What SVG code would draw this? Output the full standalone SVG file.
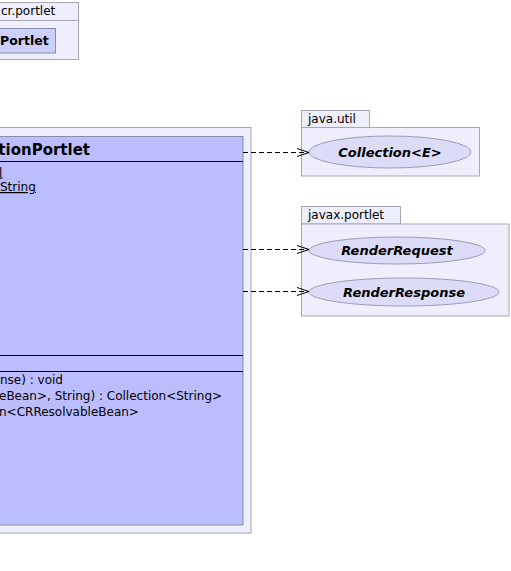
<svg xmlns="http://www.w3.org/2000/svg" width="511" height="571" viewBox="0 0 511 571">
<defs>
<style>
.pkg{fill:#eeeefc;stroke:#a6a6b6;stroke-width:1}
.cls{fill:#bbbdfe;stroke:#8a8aac;stroke-width:1}
.sm{fill:#cdcffe;stroke:#8a8aac;stroke-width:1}
.uc{fill:#dcdcf8;stroke:#9c9cb4;stroke-width:1}
.t{font-family:"DejaVu Sans",sans-serif;font-size:12px;fill:#000}
.b{font-weight:bold}
.ui{font-family:"DejaVu Sans",sans-serif;font-size:13px;font-weight:bold;font-style:italic;fill:#000}
.sep{stroke:#000;stroke-width:1}
.dep{fill:none;stroke:#000;stroke-width:1;stroke-dasharray:5,3}
</style>
<marker id="open" markerWidth="14" markerHeight="10" refX="13" refY="5" orient="auto" markerUnits="userSpaceOnUse">
<path d="M1,1 L13,5 L1,9" fill="none" stroke="#000" stroke-width="1"/>
</marker>
</defs>
<rect width="511" height="571" fill="#fff"/>
<g id="pkg-cr-portlet">
<rect class="pkg" x="-5" y="2.5" width="83.5" height="18"/>
<rect class="pkg" x="-5" y="20.5" width="83.5" height="39"/>
<text class="t" x="1" y="15">cr.portlet</text>
<rect class="sm" x="-5" y="28.5" width="60.5" height="24.5"/>
<text class="t b" x="0" y="45" style="font-size:12.5px">Portlet</text>
</g>
<g id="pkg-main">
<rect class="pkg" x="-5" y="127.5" width="256" height="405.5"/>
</g>
<g id="class-main">
<rect class="cls" x="-5" y="136.5" width="248" height="388.5"/>
<text class="t b" x="90" y="154.5" text-anchor="end" style="font-size:15px">tionPortlet</text>
<line class="sep" x1="-5" y1="161.5" x2="243" y2="161.5"/>
<text class="t" x="-1" y="176.5" text-decoration="underline">l</text>
<text class="t" x="0" y="191" text-decoration="underline">String</text>
<line class="sep" x1="-5" y1="355.5" x2="243" y2="355.5"/>
<line class="sep" x1="-5" y1="371.5" x2="243" y2="371.5"/>
<text class="t" x="0" y="383.5">nse) : void</text>
<text class="t" x="-1" y="399.5">eBean&gt;, String) : Collection&lt;String&gt;</text>
<text class="t" x="-1" y="415.5">n&lt;CRResolvableBean&gt;</text>
</g>
<g id="pkg-java-util">
<rect class="pkg" x="301.5" y="110.5" width="68" height="17"/>
<rect class="pkg" x="301.5" y="127.5" width="178" height="48.5"/>
<text class="t" x="308" y="122.5">java.util</text>
</g>
<g id="uc-collection">
<ellipse class="uc" cx="390" cy="152" rx="81" ry="16"/>
<text class="ui" x="390" y="157" text-anchor="middle">Collection&lt;E&gt;</text>
</g>
<g id="pkg-javax-portlet">
<rect class="pkg" x="301.5" y="206.5" width="99" height="17.5"/>
<rect class="pkg" x="301.5" y="224" width="207.5" height="92"/>
<text class="t" x="308" y="219">javax.portlet</text>
</g>
<g id="uc-renderrequest">
<ellipse class="uc" cx="397" cy="250.5" rx="88" ry="13.5"/>
<text class="ui" x="397" y="255" text-anchor="middle">RenderRequest</text>
</g>
<g id="uc-renderresponse">
<ellipse class="uc" cx="404" cy="292" rx="95" ry="14"/>
<text class="ui" x="404" y="296.5" text-anchor="middle">RenderResponse</text>
</g>
<g id="connectors">
<line class="dep" x1="243" y1="152.5" x2="309" y2="152.5" marker-end="url(#open)"/>
<line class="dep" x1="243" y1="249.5" x2="309" y2="249.5" marker-end="url(#open)"/>
<line class="dep" x1="243" y1="291.5" x2="309" y2="291.5" marker-end="url(#open)"/>
</g>
</svg>
